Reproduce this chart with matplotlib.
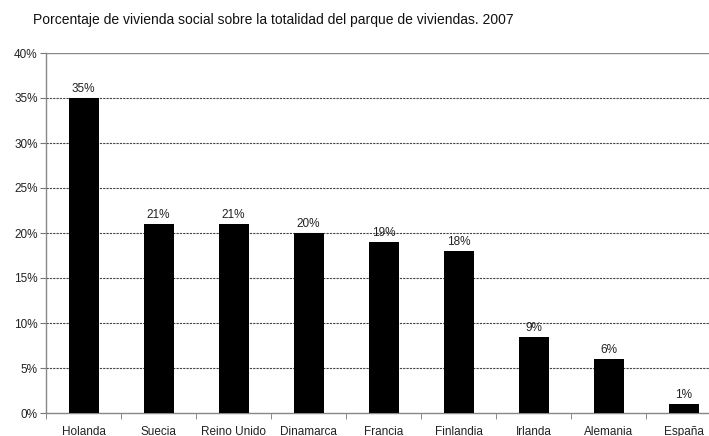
import matplotlib
matplotlib.use("Agg")
import matplotlib.pyplot as plt
import numpy as np

paises = ["Holanda", "Suecia", "Reino Unido", "Dinamarca", "Francia",
          "Finlandia", "Irlanda", "Alemania", "España"]
porcentajes = [35, 21, 21, 20, 19, 18, 8.5, 6, 1]
yticks = [0, 5, 10, 15, 20, 25, 30, 35, 40]

plt.rcParams["font.family"] = ["Liberation Sans", "DejaVu Sans"]

fig = plt.figure(figsize=(7.09, 4.36), dpi=100)
ax = fig.add_axes([46 / 709, 23 / 436, 675 / 709, 360 / 436])

x = np.arange(len(paises))
ax.bar(x, porcentajes, width=0.4, color="black", zorder=3)

for xi, v in zip(x, porcentajes):
    etiqueta = f"{int(np.floor(v + 0.5))}%"
    ax.annotate(etiqueta, (xi, v), xytext=(0, 2), textcoords="offset points",
                ha="center", va="bottom", fontsize=8.5, color="#222222")

ax.set_xlim(-0.5, len(paises) - 0.5)
ax.set_ylim(0, 40)
ax.set_yticks(yticks)
ax.set_yticklabels([f"{t}%" for t in yticks], fontsize=8.5, color="#222222")

ax.set_xticks(x)
ax.set_xticklabels(paises, fontsize=8.5, color="#222222")
ax.tick_params(axis="x", which="major", length=0, pad=9)
ax.set_xticks(np.arange(-0.5, len(paises)), minor=True)
ax.tick_params(axis="x", which="minor", length=4, direction="out", color="#777777")
ax.tick_params(axis="y", length=4, direction="out", color="#777777", pad=2)

for t in yticks[1:-1]:
    ax.axhline(t, color="#444444", linewidth=0.8, linestyle=(0, (2, 1)), zorder=1)
ax.axhline(40, color="#888888", linewidth=1.0, zorder=1)

for s in ["top", "right"]:
    ax.spines[s].set_visible(False)
for s in ["left", "bottom"]:
    ax.spines[s].set_color("#888888")
    ax.spines[s].set_linewidth(1.0)

fig.text(33 / 709, 1 - 20 / 436, "Porcentaje de vivienda social sobre la totalidad del parque de viviendas. 2007",
         fontsize=10, color="#111111", ha="left", va="center")

fig.savefig("out.png", dpi=100)
